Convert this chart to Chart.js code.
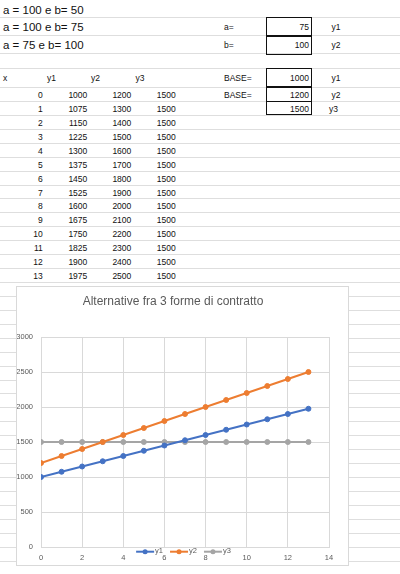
<!DOCTYPE html>
<html>
<head>
<meta charset="utf-8">
<script src="https://cdn.jsdelivr.net/npm/chart.js@4.4.0/dist/chart.umd.min.js"></script>
<style>
body { margin:0; width:400px; height:574px; overflow:hidden; background:#fff; position:relative; font-family:"Liberation Sans", Arial, sans-serif; }
.h { position:absolute; left:0; width:400px; height:1px; background:#dedede; }
.v { position:absolute; width:1px; background:#dedede; }
.c { position:absolute; font-size:8.5px; height:14px; line-height:14px; white-space:nowrap; color:#111; }
.big { font-size:11.5px; }
.box { position:absolute; border:1.5px solid #111; box-sizing:border-box; }
#chartBox { position:absolute; left:16px; top:286px; width:333px; height:280px; box-sizing:border-box; border:1px solid #d9d9d9; background:#fff; }
</style>
</head>
<body>
<div id="sheet"></div>
<div id="chartBox"><canvas id="chart" width="331" height="278"></canvas></div>
<script>
// data
var xValues = [0, 1, 2, 3, 4, 5, 6, 7, 8, 9, 10, 11, 12, 13];
var y1 = [1000, 1075, 1150, 1225, 1300, 1375, 1450, 1525, 1600, 1675, 1750, 1825, 1900, 1975];
var y2 = [1200, 1300, 1400, 1500, 1600, 1700, 1800, 1900, 2000, 2100, 2200, 2300, 2400, 2500];
var y3 = [1500, 1500, 1500, 1500, 1500, 1500, 1500, 1500, 1500, 1500, 1500, 1500, 1500, 1500];
var seriesNames = ["y1", "y2", "y3"];
var seriesColors = ["#4472C4", "#ED7D31", "#A5A5A5"];
var notes = ["a = 100 e b= 50", "a = 100 e b= 75", "a = 75 e b= 100"];
var paramLabels = ["a=", "b="];
var paramValues = [75, 100];
var baseValues = [1000, 1200, 1500];
var chartTitle = "Alternative fra 3 forme di contratto";

// spreadsheet background
var sheet = document.getElementById("sheet");
var colW = 400 / 9;
var rowLines = [17, 35, 53, 68, 87];
for (var k = 1; 87 + 13.93 * k < 575; k++) {
	rowLines.push(Math.round(87 + 13.93 * k));
}

function addDiv(cls, css) {
	var d = document.createElement("div");
	d.className = cls;
	Object.assign(d.style, css);
	sheet.appendChild(d);
	return d;
}

rowLines.forEach(function (y) {
	addDiv("h", { top: y + "px" });
});
for (var i = 1; i <= 8; i++) {
	var x = Math.round(colW * i);
	var top = (i === 1) ? 53 : 0;
	addDiv("v", { left: x + "px", top: top + "px", height: (574 - top) + "px" });
}

function cell(text, x, cy, align, cls) {
	var d = addDiv("c" + (cls ? " " + cls : ""), { top: (cy - 7) + "px" });
	d.textContent = text;
	if (align === "right") {
		d.style.left = (x - 60) + "px";
		d.style.width = "60px";
		d.style.textAlign = "right";
	} else {
		d.style.left = x + "px";
	}
}

notes.forEach(function (t, i) {
	cell(t, 3, 9.5 + i * 17.8, "left", "big");
});

// parameter boxes
paramLabels.forEach(function (t, i) {
	var cy = 27 + i * 17.8;
	cell(t, 224, cy, "left");
	cell(String(paramValues[i]), 309, cy, "right");
	cell(seriesNames[i], 331.5, cy, "left");
	addDiv("box", { left: "266px", top: (17 + i * 18) + "px", width: "46px", height: "19.5px" });
});
baseValues.forEach(function (v, i) {
	var cy = [78, 94.5, 108.5][i];
	if (i < 2) cell("BASE=", 224, cy, "left");
	cell(String(v), 309, cy, "right");
	cell(seriesNames[i], i === 2 ? 329 : 331.5, cy, "left");
	var t = [67.5, 86, 100.5][i];
	var b = [87.5, 101.5, 115][i];
	addDiv("box", { left: "266px", top: t + "px", width: "46px", height: (b - t) + "px" });
});

// table
cell("x", 3, 78, "left");
cell("y1", 47, 78, "left");
cell("y2", 91, 78, "left");
cell("y3", 135.5, 78, "left");
xValues.forEach(function (xv, i) {
	var cy = 95 + 13.93 * i;
	cell(String(xv), 42.7, cy, "right");
	cell(String(y1[i]), 87.3, cy, "right");
	cell(String(y2[i]), 131.3, cy, "right");
	cell(String(y3[i]), 175.7, cy, "right");
});

// legend drawn as line + dot + label, sitting just under the plot
var lineLegend = {
	id: "lineLegend",
	afterDraw: function (chart) {
		var ctx = chart.ctx;
		var sets = chart.data.datasets;
		var y = chart.chartArea.bottom + 4.7;
		ctx.save();
		ctx.font = '7.5px "Liberation Sans", Arial, sans-serif';
		var widths = sets.map(function (ds) { return 18 + 1 + ctx.measureText(ds.label).width; });
		var gap = 7;
		var total = widths.reduce(function (a, b) { return a + b; }, 0) + gap * (sets.length - 1);
		var x = chart.width / 2 - total / 2 + 1;
		sets.forEach(function (ds, i) {
			ctx.strokeStyle = ds.borderColor;
			ctx.lineWidth = 2;
			ctx.beginPath();
			ctx.moveTo(x, y);
			ctx.lineTo(x + 18, y);
			ctx.stroke();
			ctx.fillStyle = ds.borderColor;
			ctx.beginPath();
			ctx.arc(x + 9, y, 2.5, 0, Math.PI * 2);
			ctx.fill();
			ctx.fillStyle = "#595959";
			ctx.textBaseline = "middle";
			ctx.textAlign = "left";
			ctx.fillText(ds.label, x + 19, y - 0.5);
			x += widths[i] + gap;
		});
		ctx.restore();
	}
};

function plainNumber(v) {
	return String(v);
}

var allSeries = [y1, y2, y3];
var ctx = document.getElementById("chart");
var myChart = new Chart(ctx, {
	type: "line",
	data: {
		datasets: allSeries.map(function (s, i) {
			return {
				label: seriesNames[i],
				data: xValues.map(function (xv, j) { return { x: xv, y: s[j] }; }),
				borderColor: seriesColors[i],
				backgroundColor: seriesColors[i],
				borderWidth: 2,
				pointRadius: 2.5,
				pointBorderWidth: 1,
				tension: 0
			};
		})
	},
	options: {
		responsive: false,
		animation: false,
		devicePixelRatio: 1,
		layout: { padding: { top: 0, right: 19, bottom: 3, left: 0 } },
		plugins: {
			legend: { display: false },
			tooltip: { enabled: false },
			title: {
				display: true,
				text: chartTitle,
				color: "#595959",
				font: { family: '"Liberation Sans", Arial, sans-serif', size: 12, weight: "normal" },
				padding: { top: 7.8, bottom: 27.8 }
			}
		},
		scales: {
			x: {
				type: "linear",
				min: 0,
				max: 14,
				ticks: {
					stepSize: 2,
					color: "#595959",
					padding: 6,
					maxRotation: 0,
					callback: plainNumber,
					font: { family: '"Liberation Sans", Arial, sans-serif', size: 7.5 }
				},
				grid: { color: "#d9d9d9", drawTicks: false },
				border: { color: "#d9d9d9" },
				afterFit: function (scale) { scale.height = 15; }
			},
			y: {
				min: 0,
				max: 3000,
				ticks: {
					stepSize: 500,
					color: "#595959",
					padding: 8,
					callback: plainNumber,
					font: { family: '"Liberation Sans", Arial, sans-serif', size: 7.5 }
				},
				grid: { color: "#d9d9d9", drawTicks: false },
				border: { color: "#d9d9d9" },
				afterFit: function (scale) { scale.width = 24; }
			}
		}
	},
	plugins: [lineLegend]
});
</script>
</body>
</html>
